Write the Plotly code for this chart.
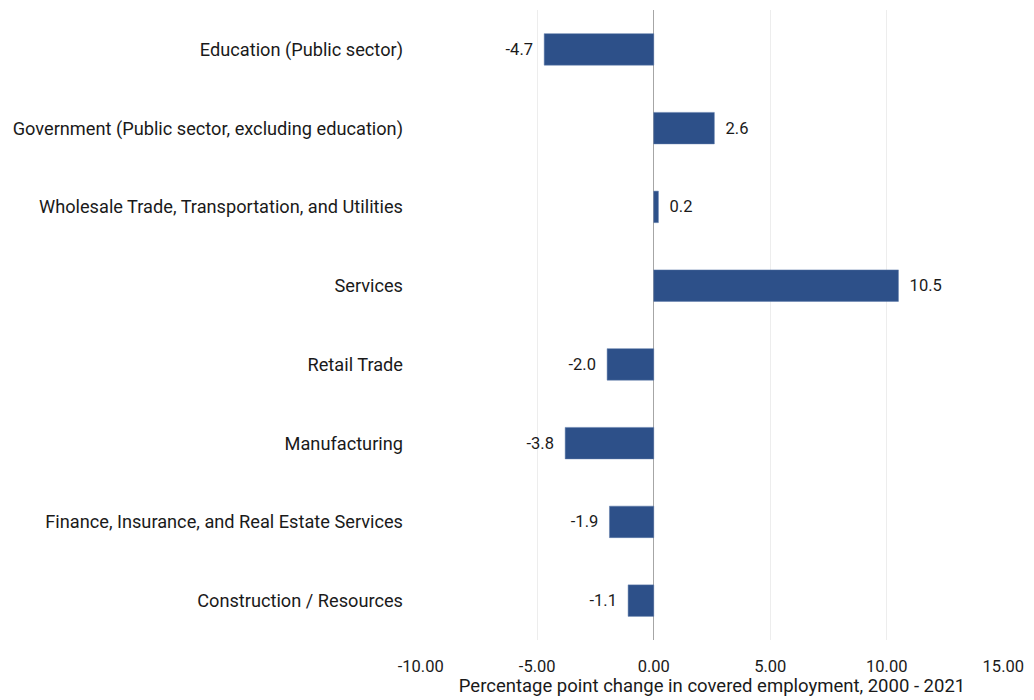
import plotly.graph_objects as go

# Industry sectors, top to bottom as displayed
sectors = [
    "Education (Public sector)",
    "Government (Public sector, excluding education)",
    "Wholesale Trade, Transportation, and Utilities",
    "Services",
    "Retail Trade",
    "Manufacturing",
    "Finance, Insurance, and Real Estate Services",
    "Construction / Resources",
]
change_pts = [-4.7, 2.6, 0.2, 10.5, -2.0, -3.8, -1.9, -1.1]
x_ticks = [-10, -5, 0, 5, 10, 15]

FONT = "Roboto"
NBSP = "\u00a0"


def bar_label(v):
    # pad the label away from the bar end
    s = f"{v:.1f}"
    return NBSP * 2 + s if v >= 0 else s + NBSP * 2


fig = go.Figure(
    go.Bar(
        y=sectors,
        x=change_pts,
        orientation="h",
        width=0.4,
        marker=dict(color="#2D5089", line=dict(color="#5A78A8", width=0.5)),
        text=[bar_label(v) for v in change_pts],
        textposition="outside",
        textfont=dict(family=FONT, size=16.5, color="#1a1a1a"),
        cliponaxis=False,
    )
)

fig.update_layout(
    width=1034,
    height=700,
    margin=dict(l=420, r=26, t=10, b=60),
    plot_bgcolor="white",
    paper_bgcolor="white",
    font=dict(family=FONT, size=16, color="#1a1a1a"),
    showlegend=False,
)

fig.update_xaxes(
    range=[-10.03, 15.03],
    tickvals=x_ticks,
    ticktext=[f"{t:.2f}" for t in x_ticks],
    showgrid=True,
    gridcolor="#EDEDED",
    gridwidth=1,
    zeroline=True,
    zerolinecolor="#A6A6A6",
    zerolinewidth=1,
    showline=False,
    ticks="",
    ticklabelstandoff=14,
    tickfont=dict(size=16.5),
    title=dict(
        text="Percentage point change in covered employment, 2000 - 2021",
        font=dict(size=18.5),
        standoff=0,
    ),
)

fig.update_yaxes(
    categoryorder="array",
    categoryarray=sectors[::-1],
    showgrid=False,
    ticks="",
    ticklabelstandoff=16,
    tickfont=dict(size=18.2),
)

fig.write_html("out.html")
